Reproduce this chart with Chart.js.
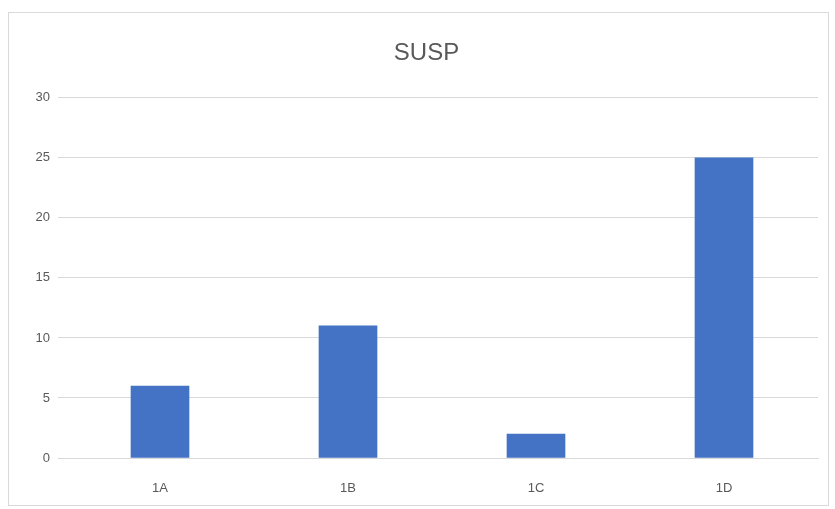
<!DOCTYPE html>
<html>
<head>
<meta charset="utf-8">
<script src="https://cdn.jsdelivr.net/npm/chart.js@4/dist/chart.umd.min.js"></script>
<style>
html,body{margin:0;padding:0;background:#fff;}
#wrap{position:relative;width:835px;height:509px;}
#frame{position:absolute;left:8px;top:12px;width:821px;height:494px;border:1px solid #d9d9d9;box-sizing:border-box;pointer-events:none;}
canvas{position:absolute;left:0;top:0;}
</style>
</head>
<body>
<div id="wrap">
<canvas id="c" width="835" height="509"></canvas>
<div id="frame"></div>
</div>
<script>
const categories = ["1A", "1B", "1C", "1D"];
const values = [6, 11, 2, 25];
const chartTitle = "SUSP";

new Chart(document.getElementById('c'), {
  type: 'bar',
  data: {
    labels: categories,
    datasets: [{
      label: chartTitle,
      data: values,
      backgroundColor: '#4472C4',
      borderWidth: 0,
      barThickness: 58
    }]
  },
  options: {
    responsive: false,
    animation: false,
    layout: { padding: { left: 35, right: 17, top: 10, bottom: 14 } },
    plugins: {
      legend: { display: false },
      tooltip: { enabled: false },
      title: {
        display: true,
        text: chartTitle,
        color: '#595959',
        font: { family: 'Liberation Sans, Arial, sans-serif', size: 24, weight: 'normal' },
        padding: { top: 29, bottom: 30 }
      }
    },
    scales: {
      x: {
        grid: { display: false, drawTicks: false },
        border: { display: true, color: '#d9d9d9' },
        ticks: { color: '#595959', font: { family: 'Liberation Sans, Arial, sans-serif', size: 13 }, padding: 23 },
        afterFit: (s) => { s.height = 37; }
      },
      y: {
        min: 0, max: 30,
        grid: { color: '#d9d9d9', tickLength: 8, drawTicks: true },
        border: { display: false },
        ticks: { stepSize: 5, color: '#595959', font: { family: 'Liberation Sans, Arial, sans-serif', size: 13 }, padding: 8 },
        afterFit: (s) => { s.width = 31; }
      }
    }
  }
});
</script>
</body>
</html>
